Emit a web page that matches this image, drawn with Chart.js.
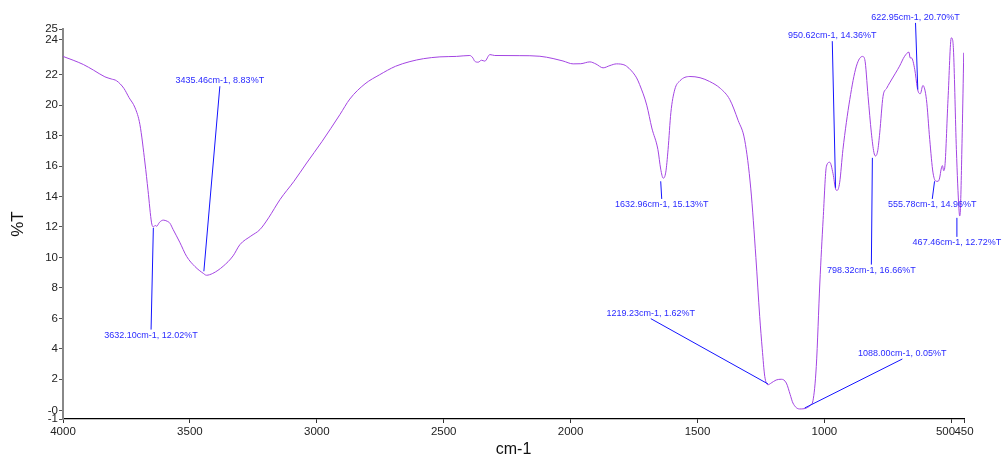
<!DOCTYPE html>
<html>
<head>
<meta charset="utf-8">
<title>FTIR spectrum</title>
<script src="https://cdn.jsdelivr.net/npm/chart.js@4.4.1/dist/chart.umd.min.js"></script>
<style>
  html, body { margin: 0; padding: 0; background: #fff; }
  #wrap { width: 1006px; height: 462px; }
</style>
</head>
<body>
<div id="wrap"><canvas id="ftir" width="1006" height="462"></canvas></div>
<script>
// --- data ---
const wavenumbers = [
  4000, 3960, 3920, 3880, 3835, 3810, 3789, 3760, 3740, 3716, 3697, 3677, 3665, 3651, 3644, 3637, 3631, 3620, 3605, 3590,
  3579, 3566, 3540, 3513, 3480, 3447, 3435, 3410, 3369, 3330, 3303, 3260, 3224, 3190, 3145, 3090, 3040, 2980, 2909, 2870,
  2810, 2752, 2690, 2633, 2580, 2515, 2450, 2397, 2385, 2378, 2364, 2351, 2338, 2318, 2299, 2200, 2121, 2069, 2030, 1990,
  1960, 1924, 1900, 1872, 1845, 1819, 1790, 1780, 1760, 1740, 1728, 1700, 1680, 1656, 1645, 1635, 1625, 1616, 1605, 1590,
  1569, 1530, 1490, 1452, 1410, 1373, 1340, 1314, 1290, 1270, 1255, 1245, 1235, 1222, 1210, 1190, 1170, 1150, 1135, 1124,
  1098, 1071, 1055, 1045, 1032, 1018, 1005, 992, 979, 966, 956, 950, 940, 927, 900, 874, 850, 841, 828, 815,
  805, 799, 790, 782, 769, 755, 743, 720, 704, 684, 667, 662, 657, 644, 634, 628, 622, 612, 598, 585,
  572, 559, 552, 546, 540, 535, 530, 526, 513, 500, 495, 491, 480, 470, 467, 464, 457, 451
];
const transmittance = [
  23.2, 22.95, 22.67, 22.3, 21.86, 21.72, 21.6, 21.1, 20.5, 19.82, 18.73, 16.2, 14.4, 12.27, 12.0, 12.1, 12.05, 12.3, 12.45, 12.38,
  12.25, 11.83, 11.0, 10.07, 9.4, 8.95, 8.83, 8.95, 9.42, 10.1, 10.84, 11.4, 11.83, 12.6, 13.8, 15.0, 16.2, 17.6, 19.38, 20.4,
  21.4, 22.0, 22.55, 22.86, 23.05, 23.17, 23.2, 23.26, 23.1, 22.89, 22.82, 22.95, 22.89, 23.32, 23.26, 23.25, 23.21, 23.06, 22.9, 22.71,
  22.72, 22.84, 22.7, 22.45, 22.6, 22.71, 22.65, 22.56, 22.25, 21.79, 21.35, 20.0, 18.5, 17.08, 15.8, 15.2, 15.6, 17.08, 19.5, 21.0,
  21.6, 21.88, 21.8, 21.55, 21.1, 20.37, 19.0, 17.7, 14.5, 10.0, 6.13, 4.0, 2.19, 1.64, 1.75, 1.95, 2.0, 1.75, 1.0, 0.44,
  0.05, 0.11, 0.3, 0.6, 2.84, 8.32, 12.5, 15.99, 16.25, 15.5, 14.5, 14.4, 14.9, 17.08, 20.37, 22.56, 23.2, 23.0, 20.58, 18.18,
  16.9, 16.66, 17.0, 18.18, 20.58, 21.1, 21.46, 22.1, 22.56, 23.21, 23.48, 23.1, 23.1, 22.34, 21.14, 20.8, 20.75, 21.29, 20.37, 17.74,
  15.55, 15.0, 15.0, 15.22, 15.8, 16.03, 15.7, 15.88, 20.37, 24.42, 24.3, 23.44, 17.08, 13.2, 12.72, 13.2, 18.18, 23.44
];

// axis ticks (the end ticks carry rounded labels, as in the original software)
const xTickValues = [4000, 3500, 3000, 2500, 2000, 1500, 1000, 500, 450];
const xTickLabels = ['4000', '3500', '3000', '2500', '2000', '1500', '1000', '500\u2002\u2002', '450'];
const yTickValues = [-0.61, -0.05, 2, 4, 6, 8, 10, 12, 14, 16, 18, 20, 22, 24.3, 25];
const yTickLabels = ['-1', '-0', '2', '4', '6', '8', '10', '12', '14', '16', '18', '20', '22', '24', '25'];

// peak annotations: text, start point on the curve, end point where the label sits (cm-1, %T)
const peakLabels = [
  '3435.46cm-1, 8.83%T', '3632.10cm-1, 12.02%T', '1632.96cm-1, 15.13%T', '1219.23cm-1, 1.62%T', '1088.00cm-1, 0.05%T',
  '798.32cm-1, 16.66%T', '555.78cm-1, 14.96%T', '467.46cm-1, 12.72%T', '950.62cm-1, 14.36%T', '622.95cm-1, 20.70%T'
];
const peakStartX = [3445, 3644, 1645, 1222, 1078, 811, 566, 478, 956, 632];
const peakStartY = [9.09, 11.94, 15.0, 1.69, 0.11, 16.54, 15.0, 12.6, 14.57, 21.02];
const peakEndX = [3382, 3653, 1641, 1684, 693, 815, 575, 478, 969, 641];
const peakEndY = [21.24, 5.26, 13.84, 5.98, 3.33, 9.53, 13.84, 11.35, 24.2, 25.4];

const FONT = '"Liberation Sans", Arial, sans-serif';

const peakPlugin = {
    id: 'peakLabels',
    afterDatasetsDraw(chart) {
        const ctx = chart.ctx;
        const xs = chart.scales.x;
        const ys = chart.scales.y;
        ctx.save();
        ctx.lineWidth = 1;
        ctx.strokeStyle = '#1414ff';
        ctx.fillStyle = '#2a2aff';
        ctx.font = '9px ' + FONT;
        ctx.textAlign = 'center';
        peakLabels.forEach((txt, i) => {
            const x1 = xs.getPixelForValue(peakStartX[i]);
            const y1 = ys.getPixelForValue(peakStartY[i]);
            const x2 = xs.getPixelForValue(peakEndX[i]);
            const y2 = ys.getPixelForValue(peakEndY[i]);
            ctx.beginPath();
            ctx.moveTo(x1, y1);
            ctx.lineTo(x2, y2);
            ctx.stroke();
            // label goes above the end point if the line runs upward, otherwise below
            if (y2 < y1) {
                ctx.textBaseline = 'bottom';
                ctx.fillText(txt, x2, y2 - 1);
            } else {
                ctx.textBaseline = 'top';
                ctx.fillText(txt, x2, y2 + 1);
            }
        });
        ctx.restore();
    }
};

const points = wavenumbers.map((w, i) => ({ x: w, y: transmittance[i] }));

new Chart(document.getElementById('ftir').getContext('2d'), {
    type: 'line',
    data: {
        datasets: [{
            label: '%T',
            data: points,
            borderColor: '#a344e2',
            borderWidth: 1,
            pointRadius: 0,
            fill: false,
            cubicInterpolationMode: 'monotone'
        }]
    },
    options: {
        responsive: false,
        animation: false,
        events: [],
        layout: { padding: { top: 29, right: 42, left: 0, bottom: 0 } },
        plugins: { legend: { display: false }, tooltip: { enabled: false } },
        scales: {
            x: {
                type: 'linear',
                reverse: true,
                min: 450,
                max: 4000,
                afterFit: (s) => { s.height = 43; },
                afterBuildTicks: (s) => { s.ticks = xTickValues.map(v => ({ value: v })); },
                grid: { drawOnChartArea: false, drawTicks: true, tickLength: 4, color: '#333' },
                border: { color: '#000', width: 1.3 },
                ticks: {
                    autoSkip: false,
                    maxRotation: 0,
                    padding: 2,
                    color: '#222',
                    font: { family: FONT, size: 11.5 },
                    callback: (value, index) => xTickLabels[index]
                },
                title: {
                    display: true,
                    text: 'cm-1',
                    color: '#111',
                    font: { family: FONT, size: 16 },
                    padding: { top: 0, bottom: 3 }
                }
            },
            y: {
                type: 'linear',
                min: -0.61,
                max: 25,
                afterFit: (s) => { s.width = 63; },
                afterBuildTicks: (s) => { s.ticks = yTickValues.map(v => ({ value: v })); },
                grid: { drawOnChartArea: false, drawTicks: true, tickLength: 4, color: '#555' },
                border: { color: '#888', width: 2 },
                ticks: {
                    autoSkip: false,
                    padding: 1,
                    color: '#222',
                    font: { family: FONT, size: 11.5 },
                    callback: (value, index) => yTickLabels[index]
                },
                title: {
                    display: true,
                    text: '%T',
                    color: '#111',
                    font: { family: FONT, size: 17 },
                    padding: { top: 8, bottom: 0 }
                }
            }
        }
    },
    plugins: [peakPlugin]
});
</script>
</body>
</html>
